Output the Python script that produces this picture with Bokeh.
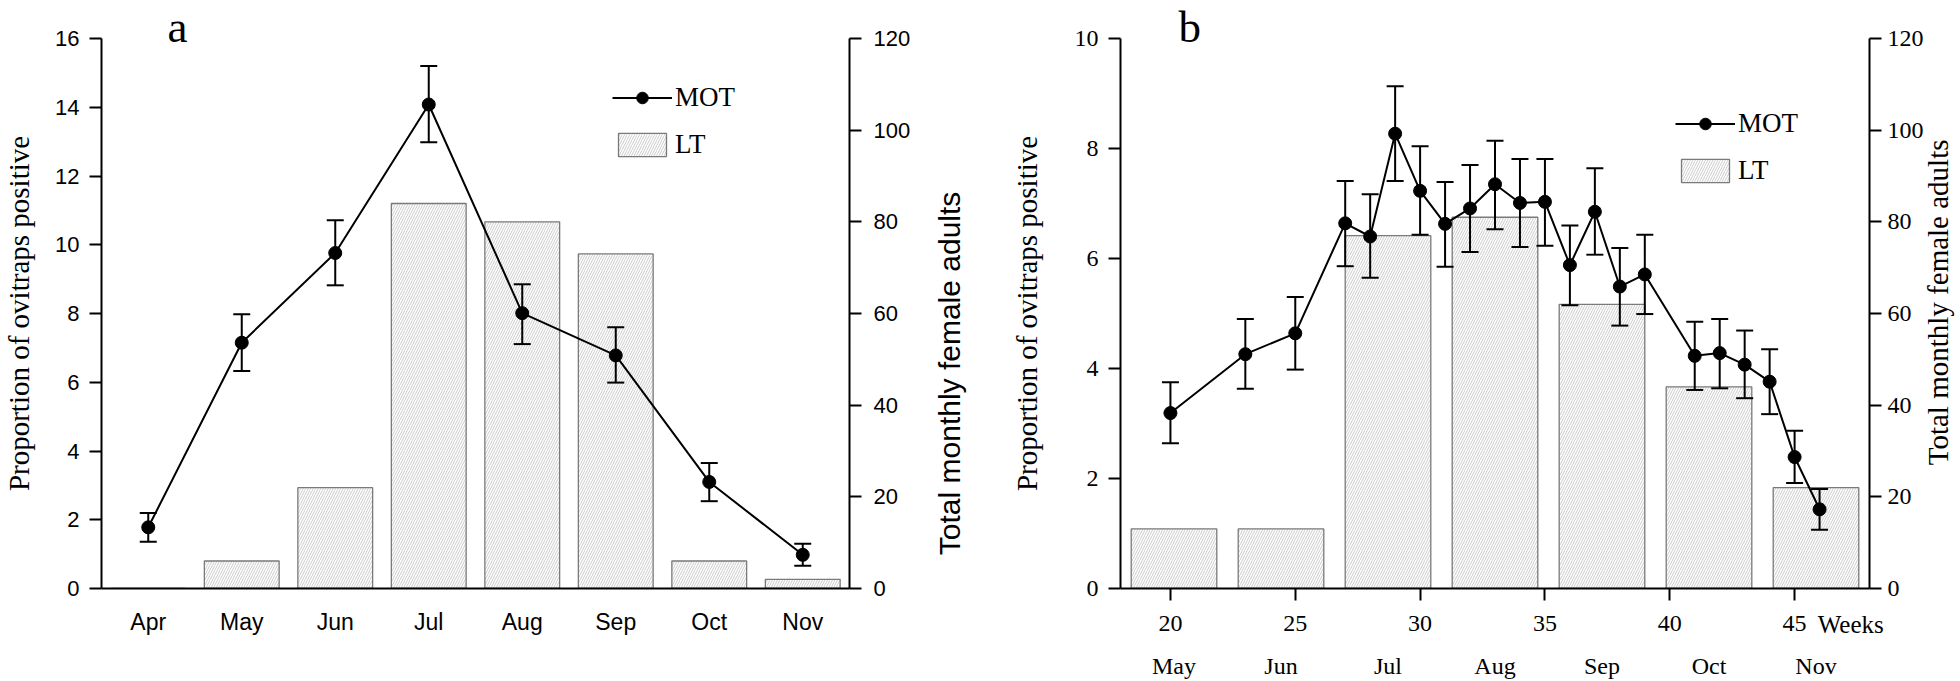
import math
from bokeh.plotting import figure
from bokeh.models import (FactorRange, Range1d, LinearAxis, ColumnDataSource,
                          Whisker, TeeHead, Legend, LegendItem, Title, FixedTicker)
from bokeh.layouts import row
from bokeh.embed import file_html
from bokeh.resources import INLINE

# ---------------- data: panel a (monthly) ----------------
months_a = ["Apr", "May", "Jun", "Jul", "Aug", "Sep", "Oct", "Nov"]
mot_a = [1.78, 7.15, 9.76, 14.08, 8.01, 6.78, 3.10, 0.98]
mot_a_upper = [2.20, 7.98, 10.71, 15.20, 8.85, 7.60, 3.65, 1.30]
mot_a_lower = [1.36, 6.33, 8.82, 12.98, 7.11, 5.99, 2.54, 0.66]
lt_a = [0, 6, 22, 84, 80, 73, 6, 2]
ticks_a_left = [0, 2, 4, 6, 8, 10, 12, 14, 16]
ticks_right = [0, 20, 40, 60, 80, 100, 120]

# ---------------- data: panel b (weekly) ----------------
weeks_b = [20, 23, 25, 27, 28, 29, 30, 31, 32, 33, 34, 35, 36, 37, 38, 39, 41, 42, 43, 44, 45, 46]
mot_b = [3.19, 4.26, 4.64, 6.64, 6.40, 8.27, 7.23, 6.63, 6.91, 7.35, 7.01, 7.03,
         5.88, 6.85, 5.49, 5.71, 4.23, 4.28, 4.07, 3.76, 2.39, 1.44]
mot_b_upper = [3.75, 4.90, 5.30, 7.41, 7.17, 9.13, 8.04, 7.39, 7.70, 8.14, 7.81, 7.81,
               6.60, 7.64, 6.19, 6.43, 4.85, 4.90, 4.69, 4.35, 2.87, 1.81]
mot_b_lower = [2.64, 3.63, 3.98, 5.86, 5.65, 7.41, 6.43, 5.85, 6.12, 6.53, 6.21, 6.23,
               5.15, 6.07, 4.78, 4.99, 3.61, 3.64, 3.46, 3.17, 1.92, 1.07]
months_b = ["May", "Jun", "Jul", "Aug", "Sep", "Oct", "Nov"]
lt_b = [13, 13, 77, 81, 62, 44, 22]
week_ticks = [20, 25, 30, 35, 40, 45]
ticks_b_left = [0, 2, 4, 6, 8, 10]

SERIF = "Liberation Serif"
SANS = "Liberation Sans"
NBSP = "\u00a0"

BAR_STYLE = dict(fill_color="white", line_color="#7a7a7a", line_width=1.3,
                 hatch_pattern="/", hatch_color="#b4b4b4", hatch_scale=5, hatch_weight=0.7)


def style_axis(ax, font, size, standoff, tick_out=12):
    ax.axis_line_width = 2
    ax.axis_line_color = "black"
    ax.major_tick_line_width = 2
    ax.major_tick_line_color = "black"
    ax.major_tick_out = tick_out
    ax.major_tick_in = 0
    ax.minor_tick_line_color = None
    ax.major_label_text_font = font
    ax.major_label_text_font_size = f"{size}px"
    ax.major_label_standoff = standoff
    ax.major_label_text_color = "black"


def style_label(ax, text, font, size, standoff):
    ax.axis_label = text
    ax.axis_label_text_font = font
    ax.axis_label_text_font_size = f"{size}px"
    ax.axis_label_text_font_style = "normal"
    ax.axis_label_text_color = "black"
    ax.axis_label_standoff = standoff


def flip_right_label(ax):
    # read bottom-to-top like the reference; text starts at the bottom of the axis
    ax.axis_label_orientation = math.pi / 2
    ax.axis_label_align = "start"


def panel_title(p, text, offset):
    t = Title(text=text, text_font=SERIF, text_font_size="45px", text_font_style="normal",
              text_color="black", align="left", offset=offset, vertical_align="bottom")
    t.standoff = -27
    p.add_layout(t, "above")


def base_fig(x_range, y_range, left, fw, right):
    p = figure(x_range=x_range, y_range=y_range, frame_width=fw, frame_height=550,
               min_border_left=left, min_border_right=right, min_border_top=38, min_border_bottom=88,
               output_backend="svg", toolbar_location=None)
    p.grid.visible = False
    p.outline_line_color = None
    p.background_fill_color = "white"
    p.border_fill_color = "white"
    return p


def make_legend(line_r, circ_r, bar_r, loc):
    return Legend(items=[LegendItem(label="MOT", renderers=[line_r, circ_r]),
                         LegendItem(label="LT", renderers=[bar_r])],
                  location=loc, border_line_color=None, background_fill_alpha=0,
                  glyph_width=60, glyph_height=29, label_standoff=3, spacing=16, padding=0, margin=0,
                  label_text_font=SERIF, label_text_font_size="27px", label_text_color="black")


# ======================= panel a =======================
pa = base_fig(FactorRange(*months_a, range_padding=0), Range1d(0, 16), 99, 748, 133)
pa.extra_y_ranges = {"lt": Range1d(0, 120)}
src_a = ColumnDataSource(dict(x=months_a, y=mot_a, upper=mot_a_upper, lower=mot_a_lower, lt=lt_a))

bars_a = pa.vbar(x="x", top="lt", width=0.8, y_range_name="lt", source=src_a, **BAR_STYLE)
wa = Whisker(source=src_a, base="x", upper="upper", lower="lower", line_width=2, line_color="black",
             upper_head=TeeHead(size=17, line_width=2, line_color="black"),
             lower_head=TeeHead(size=17, line_width=2, line_color="black"), level="glyph")
pa.add_layout(wa)
line_a = pa.line(x="x", y="y", source=src_a, line_color="black", line_width=2)
circ_a = pa.scatter(x="x", y="y", source=src_a, size=13, fill_color="black", line_color="black")

style_axis(pa.xaxis[0], SANS, 23, 20, tick_out=0)
pa.xaxis[0].major_tick_line_color = None
style_axis(pa.yaxis[0], SANS, 22, 10)
pa.yaxis[0].ticker = ticks_a_left
style_label(pa.yaxis[0], "Proportion of ovitraps positive", SERIF, 29, 17)

ra = LinearAxis(y_range_name="lt", ticker=ticks_right)
style_axis(ra, SANS, 22, 12)
style_label(ra, NBSP * 4 + "Total monthly female adults", SANS, 30, 36)
flip_right_label(ra)
pa.add_layout(ra, "right")

pa.add_layout(make_legend(line_a, circ_a, bars_a, (511, 428)))
panel_title(pa, "a", 66)

# ======================= panel b =======================
pb = base_fig(Range1d(18, 48), Range1d(0, 10), 135, 749, 96)
n_mb = len(months_b)
pb.extra_x_ranges = {"months": Range1d(0, n_mb)}
pb.extra_y_ranges = {"lt": Range1d(0, 120)}
month_pos = [i + 0.5 for i in range(n_mb)]   # slot centres on the month range
src_bw = ColumnDataSource(dict(x=weeks_b, y=mot_b, upper=mot_b_upper, lower=mot_b_lower))
src_bm = ColumnDataSource(dict(m=month_pos, lt=lt_b))

bars_b = pb.vbar(x="m", top="lt", width=0.8, x_range_name="months", y_range_name="lt",
                 source=src_bm, **BAR_STYLE)
wb = Whisker(source=src_bw, base="x", upper="upper", lower="lower", line_width=2, line_color="black",
             upper_head=TeeHead(size=17, line_width=2, line_color="black"),
             lower_head=TeeHead(size=17, line_width=2, line_color="black"), level="glyph")
pb.add_layout(wb)
line_b = pb.line(x="x", y="y", source=src_bw, line_color="black", line_width=2)
circ_b = pb.scatter(x="x", y="y", source=src_bw, size=13, fill_color="black", line_color="black")

wx = pb.xaxis[0]
style_axis(wx, SERIF, 24, 15)
wx.ticker = week_ticks
style_label(wx, "Weeks" + NBSP * 6, SERIF, 25, -23)
wx.axis_label_align = "end"

style_axis(pb.yaxis[0], SERIF, 24, 10)
pb.yaxis[0].ticker = ticks_b_left
style_label(pb.yaxis[0], "Proportion of ovitraps positive", SERIF, 29, 29)

mb = LinearAxis(x_range_name="months", ticker=FixedTicker(ticks=month_pos))
style_axis(mb, SERIF, 24, 12, tick_out=0)
mb.axis_line_color = None
mb.major_tick_line_color = None
mb.major_label_overrides = {p: m for p, m in zip(month_pos, months_b)}
pb.add_layout(mb, "below")

rb = LinearAxis(y_range_name="lt", ticker=ticks_right)
style_axis(rb, SERIF, 24, 6)
style_label(rb, NBSP * 17 + "Total monthly female adults", SERIF, 29, 11)
flip_right_label(rb)
pb.add_layout(rb, "right")

pb.add_layout(make_legend(line_b, circ_b, bars_b, (555, 402)))
panel_title(pb, "b", 58)

layout = row(pa, pb)
open("out.html", "w").write(file_html(layout, INLINE))
